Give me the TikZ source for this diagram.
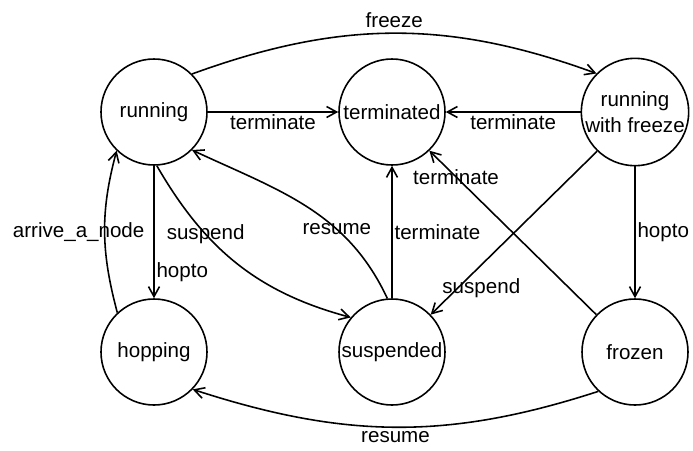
\documentclass[tikz,border=0pt]{standalone}
\usepackage{fontspec}
\setmainfont{Liberation Sans}
\usetikzlibrary{arrows.meta, positioning}
\tikzset{
    state/.style={circle, draw, line width=0.9pt, minimum size=2.12cm, inner sep=0pt, align=center},
    arrow/.style={-{Straight Barb[length=2mm, width=2.2mm]}, line width=0.9pt},
    lbl/.style={inner sep=1pt}
}

\begin{document}
\begin{tikzpicture}[font=\fontsize{11.7}{15}\selectfont]
            % Page frame
            \useasboundingbox (0, 0) rectangle (13.86, -9);
            
            % States
            \node (running) [state] at (3.08, -2.24) {running};
            \node (terminated) [state] at (7.84, -2.24) {terminated};
            \node (freezing) [state] at (12.70, -2.24) {running\\with freeze};
            \node (hopping) [state] at (3.08, -7.04) {hopping};
            \node (suspended) [state] at (7.84, -7.04) {suspended};
            \node (frozen) [state] at (12.70, -7.04) {frozen};
            
            % Top row
            \draw [arrow] (running) -- node[lbl, below]{terminate} (terminated);
            \draw [arrow] (freezing) -- node[lbl, below]{terminate} (terminated);
            \draw [arrow] (running.45) to[out=20, in=160] node[lbl, above=2pt]{freeze} (freezing.135);
            
            % Left column
            \draw [arrow] (running) -- node[lbl, pos=0.8, right=0pt]{hopto} (hopping);
            \draw [arrow] (hopping.133) to[out=105, in=255] node[lbl, midway, xshift=-0.52cm]{arrive\_a\_node} (running.226);
            \draw [arrow] (running.273) to[out=-60, in=165] node[lbl, pos=0.32]{suspend} (suspended.140);
            
            % Middle column
            \draw [arrow] (suspended.95) to[out=115, in=-25] node[lbl, pos=0.34]{resume} (running.-45);
            \draw [arrow] (suspended) -- node[lbl, midway, right=0pt]{terminate} (terminated);
            
            % Right column
            \draw [arrow] (frozen.136) -- node[lbl, pos=0.84]{terminate} (terminated.-46);
            \draw [arrow] (freezing.226) -- node[lbl, pos=0.84, xshift=0.48cm]{suspend} (suspended.44);
            \draw [arrow] (freezing) -- node[lbl, midway, right=0pt]{hopto} (frozen);
            \draw [arrow] (frozen.227) to[out=198, in=-18] node[lbl, below=1pt]{resume} (hopping.316);
\end{tikzpicture}
\end{document}
